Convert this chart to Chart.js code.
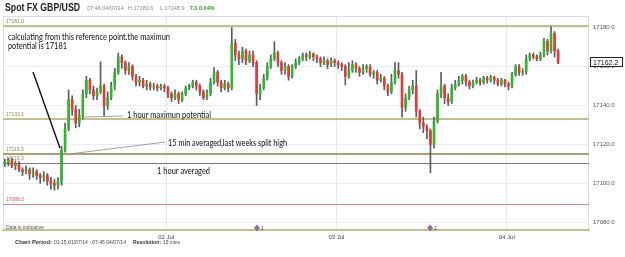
<!DOCTYPE html>
<html>
<head>
<meta charset="utf-8">
<script src="https://cdn.jsdelivr.net/npm/chart.js@4.4.1/dist/chart.umd.min.js"></script>
<style>
html, body { margin: 0; padding: 0; background: #fff; }
#wrap { width: 625px; height: 257px; }
</style>
</head>
<body>
<div id="wrap"><canvas id="fxChart" width="625" height="257"></canvas></div>
<script>
// 30 min candles, hours counted from 01 Jul 00:00
var startHour = 1.25;
var stepHours = 0.5;

var opens = [17110,17111,17112,17109,17110,17107,17106,17107,17105,17106,17104,17103,17104,17101,17100,17099,17101,17117,17128,17143,
  17138,17131,17135,17146,17153,17148,17145,17147,17150,17140,17144,17150,17157,17165,17162,17158,17160,17155,17152,17153,
  17150,17151,17149.5,17150,17149,17150,17149,17146,17144,17146,17143,17146,17149,17150,17152,17150,17147,17144,17146,17152,
  17157,17152,17149,17151,17149,17172,17166,17164,17168,17163,17166,17162,17146,17149,17154,17160,17164,17167,17162,17158,
  17160,17155,17160,17162,17164,17166,17165,17166.5,17165,17164,17162,17163,17161,17163,17162,17161,17160,17155,17158,17161,
  17159,17157,17159,17160,17156,17157,17153,17154,17150,17147,17152,17158,17156,17139,17144,17148,17150,17137,17131,17129,
  17127,17120,17132,17146,17150,17144,17142,17149,17151,17153,17155,17152,17150,17152,17153,17152,17154,17153,17154.5,17153,
  17151,17153,17151,17150,17156,17160,17157,17157.5,17164,17166,17165,17164,17166,17173,17168,17177,17168];
var highs = [17112.5,17113,17113,17111.5,17111,17108,17109,17108,17108,17107,17105,17106,17105,17103,17102,17103,17119,17131,17148,17145,
  17140,17138,17148,17155,17154,17150,17149,17162.5,17151,17147,17152,17159,17167,17166,17163,17162,17161,17156,17155,17154,
  17153,17152,17151.5,17151,17151,17151,17150,17147,17148,17147,17147,17150,17151,17153,17153,17151,17148,17148,17154,17159.5,
  17158,17153,17153,17152,17180,17174,17168,17170,17169,17168,17168,17163,17151,17156,17162,17166,17172.8,17168,17163,17162,
  17161,17161,17164,17165,17167,17167,17168,17167,17166,17165,17165,17164,17164.5,17164,17163,17162,17161,17162,17163,17162,
  17160,17161,17161,17161,17158,17158,17156,17155,17151,17156,17162,17162,17157,17146,17150,17153,17158,17138,17134,17130,
  17128,17134,17148,17157,17151,17146,17151,17153,17155,17156,17156,17153,17153,17154.5,17154,17155,17155,17155.5,17155,17154,
  17154,17153.5,17152,17157,17161,17161,17159,17166,17167,17167,17166,17167.5,17174.5,17174,17180.5,17178,17169];
var lows = [17108.5,17109,17108,17107,17106,17104,17105,17102,17103,17102,17100,17101,17099,17097,17096.5,17097,17099,17116,17127,17135,
  17128.5,17129,17133,17144,17146,17143,17143,17146,17134.5,17138,17143,17148,17156,17159,17156,17156,17153,17150,17150,17149,
  17148,17148,17148,17147.5,17148,17147,17144,17142,17143,17141,17142,17145,17148,17149,17148,17145,17143,17143,17145,17151,
  17150,17147,17148,17147,17148,17163,17161,17162,17161,17162,17160,17140,17143,17148,17153,17159,17163,17160,17156,17156,
  17153,17154,17159,17161,17163,17163,17164,17163,17162,17160,17161,17159,17160,17160,17159,17158,17150.6,17154,17157,17157,
  17155,17156,17157,17155,17154,17151,17152,17148,17145,17146,17151,17154,17134,17137,17143,17146,17134,17128,17126,17123,
  17105.4,17118,17131,17144,17141,17140,17141,17148,17150,17151,17150,17148.5,17149,17151,17150.5,17151,17151.5,17152,17151,17150,
  17150,17149.5,17148,17149,17155,17155.5,17155.5,17156,17163,17164,17163,17163,17165,17166,17167,17165,17161.5];
var closes = [17111,17112,17109,17110,17107,17106,17107,17105,17106,17104,17103,17104,17101,17100,17099,17101,17117,17128,17143,17138,
  17131,17135,17146,17153,17148,17145,17147,17150,17140,17144,17150,17157,17165,17162,17158,17160,17155,17152,17153,17150,
  17151,17149.5,17150,17149,17150,17149,17146,17144,17146,17143,17146,17149,17150,17152,17150,17147,17144,17146,17152,17157,
  17152,17149,17151,17149,17172,17166,17164,17168,17163,17166,17162,17146,17149,17154,17160,17164,17167,17162,17158,17160,
  17155,17160,17162,17164,17166,17165,17166.5,17165,17164,17162,17163,17161,17163,17162,17161,17160,17155,17158,17161,17159,
  17157,17159,17160,17156,17157,17153,17154,17150,17147,17152,17158,17156,17139,17144,17148,17150,17137,17131,17129,17127,
  17120,17132,17146,17150,17144,17142,17149,17151,17153,17155,17152,17150,17152,17153,17152,17154,17153,17154.5,17153,17151,
  17153,17151,17150,17156,17160,17157,17157.5,17164,17166,17165,17164,17166,17173,17168,17177,17168,17162.2];

var dayTicks = [24, 48, 72];
var dayLabels = ['02 Jul', '03 Jul', '04 Jul'];
var yTicks = [17080, 17100, 17120, 17140, 17160, 17180];

// drawn levels on the chart
var levelValues = [17181.0, 17133.1, 17115.3, 17110.3, 17089.2];
var levelColors = ['#c3bf93', '#c3bf93', '#a9a372', '#7a7a7a', '#d98c8c'];

// events along the bottom (hour, label)
var eventHours = [36.8, 61.2];
var eventNames = ['1', '2'];

var times = closes.map(function (c, i) { return startHour + i * stepHours; });

var wickData = times.map(function (t, i) { return { x: t, y: [lows[i], highs[i]] }; });
var bodyData = times.map(function (t, i) { return { x: t, y: [opens[i], closes[i]] }; });
var bodyColors = closes.map(function (c, i) {
  if (c > opens[i]) return '#2fb52f';
  if (c < opens[i]) return '#e23a3a';
  return '#888';
});

function txt(ctx, s, x, y, font, color, w) {
  ctx.font = font;
  ctx.fillStyle = color;
  if (w) ctx.fillText(s, x, y, w); else ctx.fillText(s, x, y);
}

var overlay = {
  id: 'overlay',
  beforeDatasetsDraw: function (chart) {
    var ctx = chart.ctx, a = chart.chartArea;
    var ys = chart.scales.y;
    ctx.save();
    ctx.strokeStyle = '#dcdcdc';
    ctx.lineWidth = 1;
    ctx.beginPath();
    ctx.moveTo(a.left + 0.5, a.bottom); ctx.lineTo(a.left + 0.5, a.top + 0.5);
    ctx.lineTo(a.right - 0.5, a.top + 0.5); ctx.lineTo(a.right - 0.5, a.bottom);
    ctx.stroke();
    levelValues.forEach(function (v, i) {
      var y = Math.round(ys.getPixelForValue(v));
      var thin = (i === 3 || i === 4);
      ctx.strokeStyle = levelColors[i];
      ctx.lineWidth = thin ? 1 : 2;
      ctx.beginPath();
      ctx.moveTo(a.left, y + (thin ? 0.5 : 0));
      ctx.lineTo(a.right, y + (thin ? 0.5 : 0));
      ctx.stroke();
      txt(ctx, v.toFixed(1), a.left + 3, y - 3, '5px "Liberation Sans"', i === 4 ? '#c06060' : '#8a8450');
    });
    ctx.restore();
  },
  afterDraw: function (chart) {
    var ctx = chart.ctx, a = chart.chartArea;
    var xs = chart.scales.x, ys = chart.scales.y;
    function px(h) { return xs.getPixelForValue(h); }
    function py(v) { return ys.getPixelForValue(v); }
    ctx.save();

    // user drawn lines
    ctx.strokeStyle = '#111';
    ctx.lineWidth = 1.4;
    ctx.beginPath(); ctx.moveTo(px(5.23), py(17157.2)); ctx.lineTo(px(9.03), py(17118.1)); ctx.stroke();
    ctx.strokeStyle = '#8a8a8a';
    ctx.lineWidth = 0.8;
    ctx.beginPath(); ctx.moveTo(px(12.14), py(17134.1)); ctx.lineTo(px(17.9), py(17134.6)); ctx.stroke();
    ctx.beginPath(); ctx.moveTo(px(10.44), py(17115.1)); ctx.lineTo(px(23.84), py(17121.2)); ctx.stroke();

    var f = '8.5px Lato';
    txt(ctx, 'calculating from this reference point.the maximun', px(1.7), py(17173.9), f, '#111', 162);
    txt(ctx, 'potential is 17181', px(1.7), py(17168.8), f, '#111', 59);
    txt(ctx, '1 hour maximun potential', px(18.48), py(17133.6), f, '#111', 84);
    txt(ctx, '15 min averaged,last weeks split high', px(24.26), py(17119.2), f, '#111', 119);
    txt(ctx, '1 hour averaged', px(22.71), py(17104.8), f, '#111', 53);

    // bottom line notes
    txt(ctx, 'Data is indicative', a.left + 3, a.bottom - 1.5, '5px "Liberation Sans"', '#555', 42);
    eventHours.forEach(function (h, i) {
      var x = px(h), y = a.bottom - 2;
      ctx.fillStyle = '#8e6f9c';
      ctx.beginPath();
      ctx.moveTo(x, y - 3.5); ctx.lineTo(x + 3, y); ctx.lineTo(x, y + 3.5); ctx.lineTo(x - 3, y);
      ctx.closePath(); ctx.fill();
      txt(ctx, eventNames[i], x + 4, y + 2, '5px "Liberation Sans"', '#444');
    });

    // last price box
    var last = closes[closes.length - 1];
    var ly = Math.round(py(last));
    ctx.fillStyle = '#fff';
    ctx.fillRect(a.right + 1, ly - 5, 32, 10);
    ctx.strokeStyle = '#222';
    ctx.lineWidth = 1;
    ctx.strokeRect(a.right + 1.5, ly - 4.5, 32, 9);
    txt(ctx, last.toFixed(1), a.right + 4, ly + 3, '7px "Liberation Sans"', '#111', 27);

    // header
    txt(ctx, 'Spot FX GBP/USD', 5, 11, 'bold 10px "Liberation Sans"', '#222', 75);
    txt(ctx, '07:46 04/07/14', 87, 10, '5.5px "Liberation Sans"', '#888', 37);
    txt(ctx, 'H 17180.6', 128, 10, '5.5px "Liberation Sans"', '#888', 29);
    txt(ctx, 'L 17148.9', 160, 10, '5.5px "Liberation Sans"', '#888', 28);
    txt(ctx, '7.3', 190, 10, 'bold 5.5px "Liberation Sans"', '#2a9a2a', 7);
    txt(ctx, '0.04%', 199, 10, 'bold 5.5px "Liberation Sans"', '#2a9a2a', 19);

    // footer
    txt(ctx, 'Chart Period:', 15, 244, 'bold 6px "Liberation Sans"', '#333', 37);
    txt(ctx, '01:15 01/07/14 - 07:45 04/07/14', 54, 244, '6px "Liberation Sans"', '#444', 72);
    txt(ctx, 'Resolution:', 133, 244, 'bold 6px "Liberation Sans"', '#333', 28);
    txt(ctx, '15 mins', 163, 244, '6px "Liberation Sans"', '#444', 17);
    ctx.restore();
  }
};

new Chart(document.getElementById('fxChart'), {
  type: 'bar',
  data: {
    datasets: [
      {
        label: 'body',
        data: bodyData,
        backgroundColor: bodyColors,
        barThickness: 2,
        minBarLength: 1,
        grouped: false,
        order: 0
      },
      {
        label: 'wick',
        data: wickData,
        backgroundColor: '#5c5c5c',
        barThickness: 1,
        grouped: false,
        order: 1
      }
    ]
  },
  options: {
    responsive: false,
    animation: false,
    devicePixelRatio: 1,
    layout: { padding: { top: 16, left: 3, right: 0, bottom: 0 } },
    plugins: { legend: { display: false }, tooltip: { enabled: false } },
    scales: {
      x: {
        type: 'linear',
        min: 1,
        max: 83.6,
        offset: false,
        grid: { color: '#e8e8e8', drawTicks: false, offset: false },
        border: { color: '#c3bf93', width: 2 },
        afterBuildTicks: function (scale) {
          scale.ticks = dayTicks.map(function (v) { return { value: v }; });
        },
        ticks: {
          font: { size: 6, family: 'Liberation Sans' },
          color: '#444',
          padding: 4,
          maxRotation: 0,
          callback: function (v) { return dayLabels[dayTicks.indexOf(v)]; }
        },
        afterFit: function (scale) { scale.height = 27; }
      },
      y: {
        position: 'right',
        min: 17076,
        max: 17186,
        grid: { color: '#ececec', drawTicks: false },
        border: { display: false },
        afterBuildTicks: function (scale) {
          scale.ticks = yTicks.map(function (v) { return { value: v }; });
        },
        ticks: {
          font: { size: 6, family: 'Liberation Sans' },
          color: '#555',
          padding: 4,
          callback: function (v) { return v.toFixed(1); }
        },
        afterFit: function (scale) { scale.width = 36; }
      }
    }
  },
  plugins: [overlay]
});
</script>
</body>
</html>
